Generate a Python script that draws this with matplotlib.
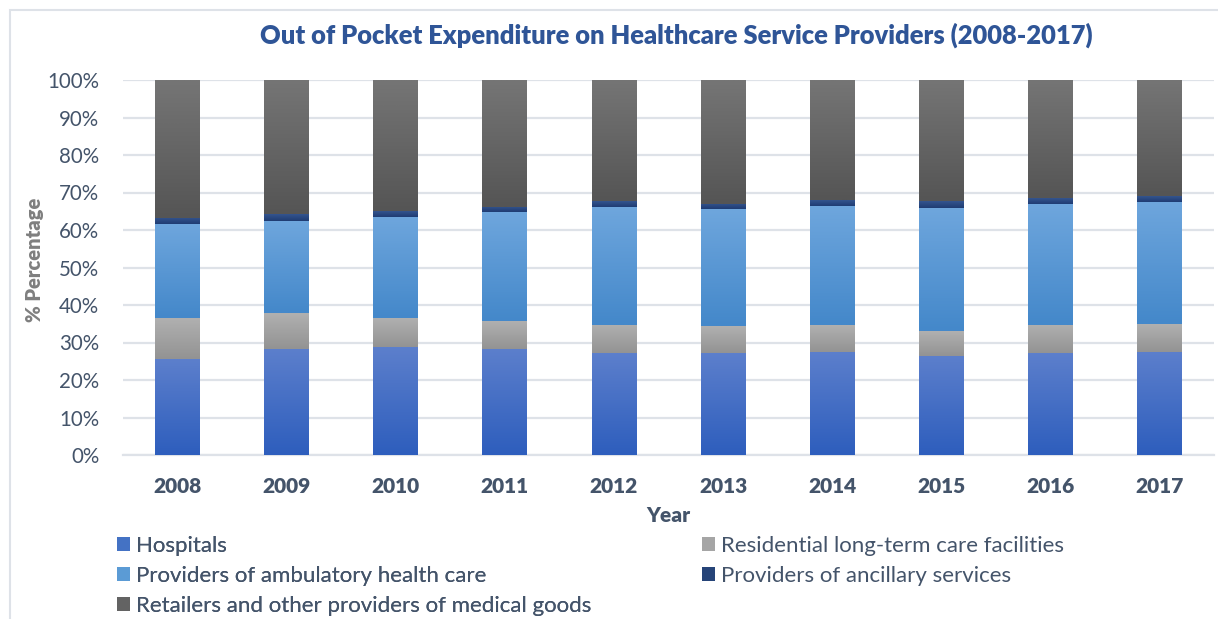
import numpy as np
import matplotlib.pyplot as plt
from matplotlib.colors import LinearSegmentedColormap
from matplotlib.patches import Rectangle, Patch

plt.rcParams['font.family'] = ['Lato', 'DejaVu Sans']

years = ['2008', '2009', '2010', '2011', '2012', '2013', '2014', '2015', '2016', '2017']

# shares (%), stacked bottom -> top
hospitals   = [25.6, 28.3, 28.8, 28.3, 27.2, 27.2, 27.5, 26.5, 27.2, 27.5]
residential = [10.9,  9.6,  7.7,  7.4,  7.5,  7.2,  7.2,  6.6,  7.5,  7.4]
ambulatory  = [25.1, 24.5, 27.0, 29.0, 31.4, 31.2, 31.7, 32.8, 32.2, 32.6]
ancillary   = [ 1.7,  1.8,  1.6,  1.5,  1.6,  1.4,  1.6,  1.8,  1.6,  1.5]
retailers   = [100 - a - b - c - d for a, b, c, d in zip(hospitals, residential, ambulatory, ancillary)]

series = [
    ("Hospitals", hospitals, '#2E5EBD', '#5C7FCC', '#4472C4'),
    ("Residential long-term care facilities", residential, '#939393', '#B0B0B0', '#A5A5A5'),
    ("Providers of ambulatory health care", ambulatory, '#4488CA', '#6EA6DD', '#5B9BD5'),
    ("Providers of ancillary services", ancillary, '#1F3C73', '#34548E', '#264478'),
    ("Retailers and other providers of medical goods", retailers, '#555555', '#757575', '#636363'),
]

fig = plt.figure(figsize=(12.18, 6.19), dpi=100)
ax = fig.add_axes([123/1218, 1 - 455/619, (1214 - 123)/1218, (455 - 80)/619])

x = np.arange(len(years))
grad = np.linspace(0, 1, 64).reshape(-1, 1)
bottom = np.zeros(len(years))
handles = {}
for name, vals, c_bot, c_top, c_mid in series:
    bars = ax.bar(x, vals, width=0.41, bottom=bottom, color='none', linewidth=0, zorder=3)
    cmap = LinearSegmentedColormap.from_list(name, [c_bot, c_top])
    for b in bars:
        x0, y0, w, h = b.get_x(), b.get_y(), b.get_width(), b.get_height()
        im = ax.imshow(grad, extent=(x0, x0 + w, y0, y0 + h), origin='lower',
                       cmap=cmap, aspect='auto', zorder=3, interpolation='bilinear')
        im.set_clip_path(b)
    bottom += np.array(vals)
    handles[name] = Patch(facecolor=c_mid)

ax.set_xlim(-0.5, len(years) - 0.5)
ax.set_ylim(0, 100)
ax.set_yticks(np.arange(0, 101, 10))
ax.set_yticklabels([f"{v}%" for v in range(0, 101, 10)])
ax.set_xticks(x)
ax.set_xticklabels(years, fontweight='heavy')
ax.tick_params(axis='y', length=0, pad=17, labelsize=14.8, labelcolor='#44546A')
ax.tick_params(axis='x', length=0, pad=16, labelsize=15, labelcolor='#44546A')
ax.grid(axis='y', color='#DEE2E8', linewidth=1.6, zorder=0)
ax.set_axisbelow(True)
for s in ['top', 'right', 'left']:
    ax.spines[s].set_visible(False)
ax.spines['bottom'].set_color('#DEE2E8')
ax.spines['bottom'].set_linewidth(1.6)

ax.set_xlabel("Year", fontsize=15, fontweight='heavy', color='#44546A', labelpad=7)
fig.text(35/1218, 1 - 260/619, "% Percentage", rotation=90, ha='center', va='center',
         fontsize=14.5, fontweight='heavy', color='#7F7F7F')

fig.text(676/1218, 1 - 35/619, "Out of Pocket Expenditure on Healthcare Service Providers (2008-2017)",
         ha='center', va='center', fontsize=18.4, fontweight='heavy', color='#2F5597')

names = [s[0] for s in series]
leg_kw = dict(loc='upper left', frameon=False, fontsize=16, handlelength=0.6, handleheight=0.6,
              handletextpad=0.25, labelspacing=0.44, borderaxespad=0, borderpad=0,
              labelcolor='#44546A')
leg1 = fig.legend([handles[n] for n in (names[0], names[2], names[4])],
                  [names[0], names[2], names[4]],
                  bbox_to_anchor=(117/1218, 1 - 536/619), **leg_kw)
leg2 = fig.legend([handles[n] for n in (names[1], names[3])],
                  [names[1], names[3]],
                  bbox_to_anchor=(702/1218, 1 - 536/619), **leg_kw)
fig.add_artist(leg1)

fig.add_artist(Rectangle((10/1218, -0.1), 1.2, 1 - 10/619 + 0.1, transform=fig.transFigure,
                         fill=False, edgecolor='#DEE2E8', linewidth=1.5))

fig.savefig('out.png', dpi=100)
